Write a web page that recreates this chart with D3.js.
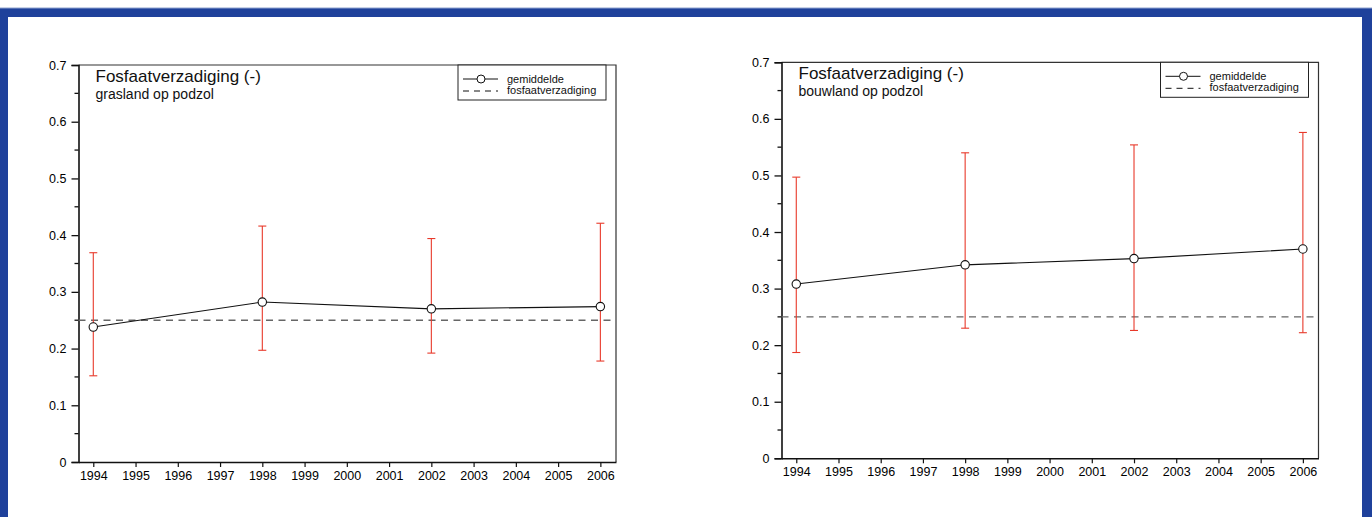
<!DOCTYPE html>
<html>
<head>
<meta charset="utf-8">
<script src="https://cdn.jsdelivr.net/npm/d3@7"></script>
<style>
  body { margin: 0; background: #fff; }
  svg { display: block; font-family: "Liberation Sans", Arial, Helvetica, sans-serif; }
</style>
</head>
<body>
<script>
const years = [1994, 1998, 2002, 2006];
const yearTicks = [1994, 1995, 1996, 1997, 1998, 1999, 2000, 2001, 2002, 2003, 2004, 2005, 2006];
const yTicks = [0, 0.1, 0.2, 0.3, 0.4, 0.5, 0.6, 0.7];
const yMinor = [0.05, 0.15, 0.25, 0.35, 0.45, 0.55, 0.65];
const threshold = 0.25;

// grasland op podzol
const grasMean = [0.238, 0.282, 0.270, 0.274];
const grasLow = [0.152, 0.197, 0.192, 0.178];
const grasHigh = [0.369, 0.416, 0.394, 0.421];

// bouwland op podzol
const bouwMean = [0.308, 0.342, 0.353, 0.370];
const bouwLow = [0.187, 0.230, 0.226, 0.222];
const bouwHigh = [0.497, 0.540, 0.554, 0.576];

const title = "Fosfaatverzadiging (-)";
const legendLabels = ["gemiddelde", "fosfaatverzadiging"];

const width = 1372, height = 517;

const svg = d3.select("body").append("svg")
  .attr("width", width)
  .attr("height", height);

// blue frame
svg.append("rect").attr("x", 0).attr("y", 8).attr("width", width).attr("height", 9).attr("fill", "#1f419b");
svg.append("rect").attr("x", 0).attr("y", 8).attr("width", 8).attr("height", height).attr("fill", "#1f419b");
svg.append("rect").attr("x", 1362).attr("y", 8).attr("width", 10).attr("height", height).attr("fill", "#1f419b");
svg.append("rect").attr("x", 0).attr("y", 7.5).attr("width", width).attr("height", 1).attr("fill", "#8fa3cf");

function drawPanel(box, subtitle, mean, low, high) {
  const x = d3.scaleLinear()
    .domain([1993.65, 2006.37])
    .range([box.left, box.right]);
  const y = d3.scaleLinear()
    .domain([0, 0.7])
    .range([box.bottom, box.top]);

  const g = svg.append("g");

  // frame top and right
  g.append("path")
    .attr("d", `M${box.left},${box.top}H${box.right}V${box.bottom}`)
    .attr("fill", "none")
    .attr("stroke", "#333")
    .attr("stroke-width", 1.2);

  // y axis
  const yAxis = g.append("g")
    .attr("transform", `translate(${box.left},0)`)
    .call(d3.axisLeft(y).tickValues(yTicks).tickSize(7).tickPadding(5)
      .tickFormat(d => d === 0 ? "0" : d3.format(".1f")(d)));
  yAxis.attr("font-size", null).attr("font-family", null);
  yAxis.selectAll(".domain").attr("stroke", "#111").attr("stroke-width", 1.6);
  yAxis.selectAll(".tick line").attr("stroke", "#111").attr("stroke-width", 1.3);
  yAxis.selectAll("text").style("font-size", "12.5px").attr("fill", "#000");

  g.selectAll(".minor")
    .data(yMinor)
    .enter()
    .append("line")
    .attr("x1", box.left - 4)
    .attr("x2", box.left)
    .attr("y1", d => y(d))
    .attr("y2", d => y(d))
    .attr("stroke", "#111")
    .attr("stroke-width", 1.3);

  // x axis
  const xAxis = g.append("g")
    .attr("transform", `translate(0,${box.bottom})`)
    .call(d3.axisBottom(x).tickValues(yearTicks).tickSize(5).tickPadding(4).tickFormat(d3.format("d")).tickSizeOuter(0));
  xAxis.attr("font-size", null).attr("font-family", null);
  xAxis.selectAll(".domain").attr("stroke", "#111").attr("stroke-width", 1.6);
  xAxis.selectAll(".tick line").attr("stroke", "#111").attr("stroke-width", 1.2);
  xAxis.selectAll("text").style("font-size", "12.5px").attr("fill", "#000");

  // threshold
  g.append("line")
    .attr("x1", box.left)
    .attr("x2", box.right)
    .attr("y1", y(threshold))
    .attr("y2", y(threshold))
    .attr("stroke", "#666")
    .attr("stroke-width", 1.4)
    .attr("stroke-dasharray", "7,5.5");

  // error bars
  const err = g.selectAll(".err")
    .data(years)
    .enter()
    .append("g");
  err.append("line")
    .attr("x1", d => x(d)).attr("x2", d => x(d))
    .attr("y1", (d, i) => y(low[i])).attr("y2", (d, i) => y(high[i]))
    .attr("stroke", "#e8392a").attr("stroke-width", 1.1);
  err.append("line")
    .attr("x1", d => x(d) - 4).attr("x2", d => x(d) + 4)
    .attr("y1", (d, i) => y(low[i])).attr("y2", (d, i) => y(low[i]))
    .attr("stroke", "#e8392a").attr("stroke-width", 1.1);
  err.append("line")
    .attr("x1", d => x(d) - 4).attr("x2", d => x(d) + 4)
    .attr("y1", (d, i) => y(high[i])).attr("y2", (d, i) => y(high[i]))
    .attr("stroke", "#e8392a").attr("stroke-width", 1.1);

  // mean line
  const line = d3.line()
    .x((d, i) => x(years[i]))
    .y(d => y(d));
  g.append("path")
    .datum(mean)
    .attr("d", line)
    .attr("fill", "none")
    .attr("stroke", "#111")
    .attr("stroke-width", 1.1);

  g.selectAll(".pt")
    .data(mean)
    .enter()
    .append("circle")
    .attr("cx", (d, i) => x(years[i]))
    .attr("cy", d => y(d))
    .attr("r", 4.2)
    .attr("fill", "#fff")
    .attr("stroke", "#111")
    .attr("stroke-width", 1.1);

  // titles
  g.append("text")
    .attr("x", box.left + 17)
    .attr("y", box.top + 16.5)
    .style("font-size", "17px")
    .attr("fill", "#111")
    .text(title);
  g.append("text")
    .attr("x", box.left + 17)
    .attr("y", box.top + 34)
    .style("font-size", "14px")
    .attr("fill", "#111")
    .text(subtitle);

  // legend
  const lg = g.append("g").attr("transform", `translate(${box.right - 158},${box.top})`);
  lg.append("rect")
    .attr("x", 0).attr("y", 0).attr("width", 148).attr("height", 35)
    .attr("fill", "#fff").attr("stroke", "#222").attr("stroke-width", 1);
  lg.append("line").attr("x1", 5).attr("x2", 40).attr("y1", 14).attr("y2", 14)
    .attr("stroke", "#111").attr("stroke-width", 1);
  lg.append("circle").attr("cx", 23).attr("cy", 14).attr("r", 4).attr("fill", "#fff")
    .attr("stroke", "#111").attr("stroke-width", 1);
  lg.append("line").attr("x1", 5).attr("x2", 40).attr("y1", 26).attr("y2", 26)
    .attr("stroke", "#111").attr("stroke-width", 1).attr("stroke-dasharray", "6,5");
  lg.selectAll(".lt")
    .data(legendLabels)
    .enter()
    .append("text")
    .attr("x", 49)
    .attr("y", (d, i) => 18 + i * 11)
    .style("font-size", "11px")
    .attr("fill", "#111")
    .text(d => d);
}

drawPanel({left: 78.5, right: 616, top: 65, bottom: 462}, "grasland op podzol", grasMean, grasLow, grasHigh);
drawPanel({left: 781.5, right: 1318.5, top: 62.3, bottom: 458.3}, "bouwland op podzol", bouwMean, bouwLow, bouwHigh);
</script>
</body>
</html>
